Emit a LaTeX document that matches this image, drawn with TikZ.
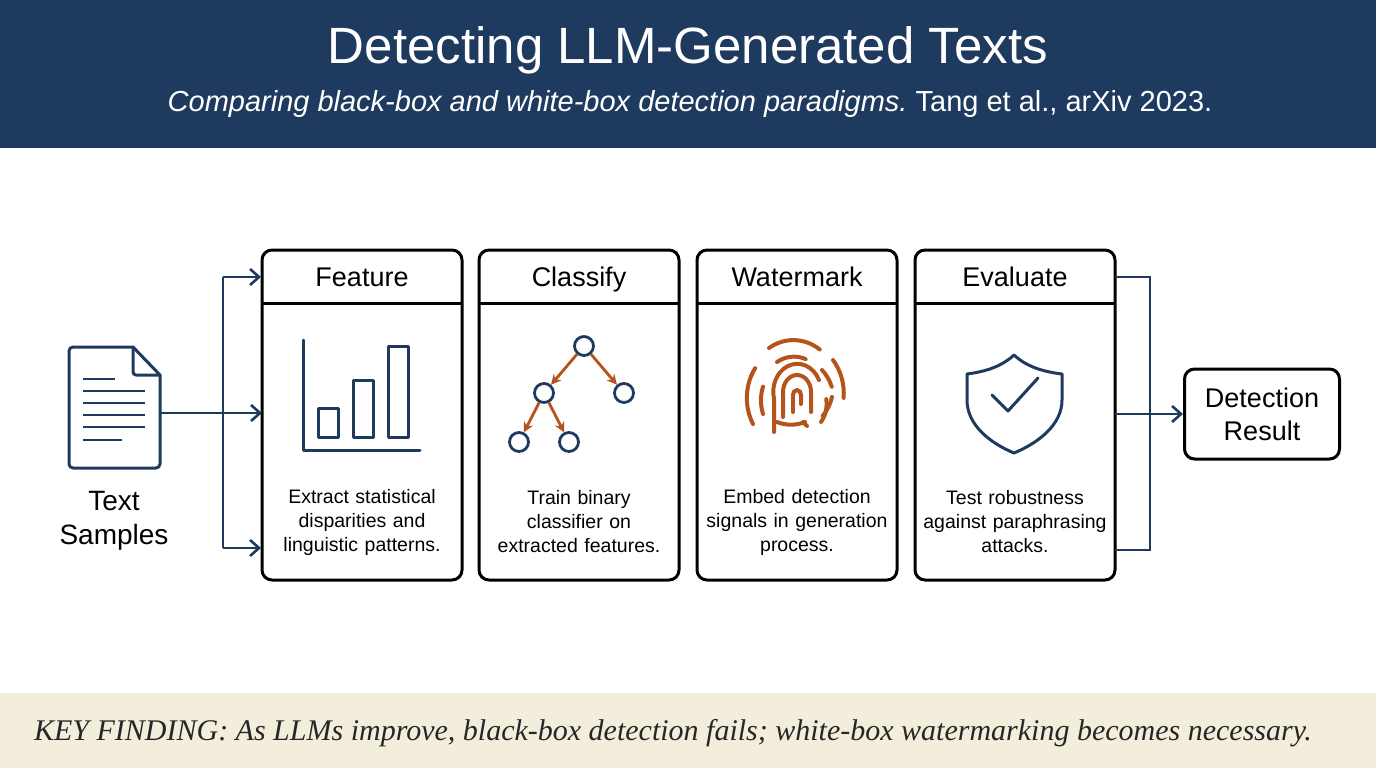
\documentclass[tikz,border=0pt]{standalone}
\usepackage{fontspec}
\setmainfont{Liberation Sans}
\newfontfamily\footfont{Liberation Serif}
\usetikzlibrary{arrows.meta}
\definecolor{navy}{HTML}{1F3A5F}
\definecolor{rust}{HTML}{B5531A}
\definecolor{beige}{HTML}{F3EEDC}
\begin{document}
\begin{tikzpicture}[x=1pt,y=-1pt,
  stage/.style={draw=black,line width=3pt,rounded corners=10pt},
  conn/.style={draw=navy,line width=2.6pt,-{Straight Barb[length=9pt,width=16pt,line width=2.6pt]}},
  wire/.style={draw=navy,line width=2.6pt},
  icon/.style={draw=navy,line width=3pt,line cap=round,line join=round},
  fp/.style={draw=rust,line width=4pt,line cap=round},
  desc/.style={font=\fontsize{19.5}{24}\selectfont,align=center,text width=195pt}]
\useasboundingbox (0,0) rectangle (1376,768);
\fill[navy] (0,0) rectangle (1376,148);
\node[text=white,font=\fontsize{51}{56}\selectfont] (title) at (688,50) {Detecting LLM-Generated Texts};
\node[text=white,font=\fontsize{29}{34}\selectfont] (sub) at (690,104) {\itshape Comparing black-box and white-box detection paradigms.\upshape\ Tang et al., arXiv 2023.};
\fill[beige] (0,693) rectangle (1376,768);
\node[text=black!85,font=\footfont\itshape\fontsize{30}{34}\selectfont] (foot) at (673,733) {KEY FINDING: As LLMs improve, black-box detection fails; white-box watermarking becomes necessary.};
% doc icon
\draw[icon,rounded corners=4pt] (133,347) -- (69,347) -- (69,468) -- (160,468) -- (160,375);
\draw[icon] (133,347) -- (160,375);
\draw[icon,rounded corners=3pt] (133,347) -- (133,375) -- (160,375);
\foreach \y/\e in {379/115,391/145,403/145,415/145,427/145,440/122} \draw[navy,line width=2.8pt] (83,\y) -- (\e,\y);
\coordinate (docR) at (160,413);
\node[font=\fontsize{28}{34}\selectfont,align=center] (ts) at (114,521) {Text\\Samples};
% stages
\foreach \n/\x/\h in {f/262/Feature,c/479/Classify,w/697/Watermark,e/915/Evaluate}{
  \draw[stage] (\x,250) rectangle ++(200,330);
  \draw[black,line width=3pt] (\x,303) -- ++(200,0);
  \node[font=\fontsize{27}{30}\selectfont,text height=19pt,text depth=6pt] (\n h) at (\x+100,280) {\h};
  \coordinate (\n L) at (\x,413);
}
\node[desc] (fd) at (362,522) {Extract statistical\\disparities and\\linguistic patterns.};
\node[desc] (cd) at (579,522) {Train binary\\classifier on\\extracted features.};
\node[desc] (wd) at (797,522) {Embed detection\\signals in generation\\process.};
\node[desc] (ed) at (1015,522) {Test robustness\\against paraphrasing\\attacks.};
% left connectors
\coordinate (j1) at (223,277); \coordinate (j2) at (223,548);
\coordinate (t1) at (261,277); \coordinate (t2) at (261,548);
\draw[wire] (j1) -- (j2);
\draw[conn] (docR) -- (fL);
\draw[conn] (j1) -- (t1);
\draw[conn] (j2) -- (t2);
% chart
\draw[icon] (303,340) -- (303,450) -- (420,450);
\draw[icon] (318,408) rectangle (338,437);
\draw[icon] (353,380) rectangle (373,437);
\draw[icon] (388,346) rectangle (408,437);
% tree
\foreach \n/\x/\y in {a/584/346,b/544/393,c/624/393,d/519/442,e/569/442}
  \node[circle,draw=navy,line width=2.8pt,minimum size=19pt,inner sep=0pt] (t\n) at (\x,\y) {};
\foreach \p/\q in {a/b,a/c,b/d,b/e}
  \draw[rust,line width=2.8pt,-{Stealth[length=10pt,width=10pt]}] (t\p) -- (t\q);
% fingerprint
\begin{scope}[shift={(797,392)},yscale=-1]
\draw[fp] (-4,-3) arc[start angle=180,end angle=0,x radius=4,y radius=5] -- (4,-12);
\draw[fp] (-4,-3) -- (-4,-20);
\draw[fp] (14,-20) -- (14,0) arc[start angle=0,end angle=180,x radius=14,y radius=17] -- (-14,-25);
\draw[fp] (24,-30) arc[start angle=-40,end angle=10,x radius=24,y radius=28];
\draw[fp] (22,12) arc[start angle=25,end angle=195,x radius=24,y radius=28] -- (-23,-40);
\draw[fp] (-34,-22) arc[start angle=200,end angle=160,x radius=34,y radius=40];
\draw[fp] (-20,30) arc[start angle=120,end angle=70,x radius=34,y radius=40];
\draw[fp] (25,22) arc[start angle=48,end angle=20,x radius=36,y radius=42];
\draw[fp] (35,-5) arc[start angle=-15,end angle=-45,x radius=36,y radius=42];
\draw[fp] (-44,-32) arc[start angle=210,end angle=145,x radius=46,y radius=52];
\draw[fp] (-28,44) arc[start angle=122,end angle=55,x radius=46,y radius=52];
\draw[fp] (36,32) arc[start angle=40,end angle=-5,x radius=46,y radius=52];
\draw[fp] (-20,-30) arc[start angle=240,end angle=300,x radius=28,y radius=20];
\draw[fp] (6,-30) -- (10,-34);
\end{scope}
% shield
\draw[icon] (1014,355) .. controls (1000,368) and (982,372) .. (967,374) -- (967,400) .. controls (967,425) and (990,443) .. (1014,453) .. controls (1038,443) and (1062,425) .. (1062,400) -- (1062,374) .. controls (1046,372) and (1028,368) .. (1014,355) -- cycle;
\draw[icon] (992,395) -- (1008,411) -- (1038,378);
% right connectors
\node[stage,minimum width=155pt,minimum height=90pt,font=\fontsize{27}{33}\selectfont,align=center] (res) at (1262,414) {Detection\\Result};
\coordinate (eR) at (1115,414);
\coordinate (r1) at (1115,277); \coordinate (r2) at (1115,550);
\draw[wire] (r1) -- (1150,277) -- (1150,550) -- (r2);
\draw[conn] (eR) -- (res.west);
\end{tikzpicture}
\end{document}
